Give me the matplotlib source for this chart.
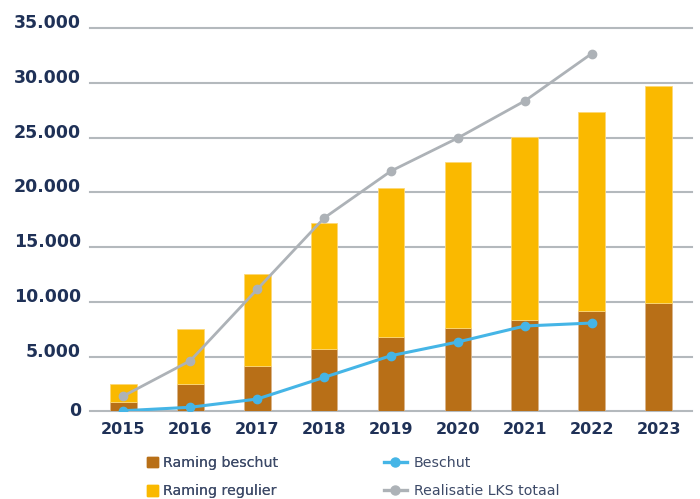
import numpy as np
import matplotlib
matplotlib.use("Agg")
import matplotlib.pyplot as plt
from matplotlib.patches import Patch
from matplotlib.lines import Line2D

# ---- data ----
years = ["2015", "2016", "2017", "2018", "2019", "2020", "2021", "2022", "2023"]
raming_beschut = [850, 2500, 4150, 5720, 6800, 7640, 8370, 9190, 9920]
raming_regulier = [1640, 4990, 8390, 11480, 13570, 15160, 16680, 18140, 19780]
beschut = [50, 370, 1120, 3100, 5080, 6330, 7790, 8060]
realisatie_lks = [1400, 4620, 11140, 17650, 21940, 24960, 28340, 32660]
y_ticks = [0, 5000, 10000, 15000, 20000, 25000, 30000, 35000]

# ---- style ----
c_brown = "#b86f17"
c_yellow = "#fab900"
c_blue = "#45b5e6"
c_grey = "#adb2b7"
c_grid = "#b4b9bd"
c_text = "#1f3157"
c_legend = "#3d4a68"

W, H = 700, 499
fig = plt.figure(figsize=(W / 100, H / 100), dpi=100)
ax = fig.add_axes([90 / W, (H - 411.3) / H, 602 / W, (411.3 - 28) / H])

x = np.arange(len(years))
ax.bar(x, raming_beschut, width=0.4, color=c_brown, edgecolor="#d9b48a",
       linewidth=0.6, zorder=2)
ax.bar(x, raming_regulier, width=0.4, bottom=raming_beschut, color=c_yellow,
       edgecolor="#fdd877", linewidth=0.6, zorder=2)

ax.plot(x[:len(realisatie_lks)], realisatie_lks, color=c_grey, lw=2.0,
        marker="o", markersize=6, zorder=3, solid_joinstyle="round")
ax.plot(x[:len(beschut)], beschut, color=c_blue, lw=2.2,
        marker="o", markersize=6, zorder=4, solid_joinstyle="round")

ax.set_xlim(-0.5, len(years) - 0.5)
ax.set_ylim(0, 35000)
ax.set_yticks(y_ticks)
ax.set_yticklabels([f"{v:,}".replace(",", ".") for v in y_ticks], va="baseline")
ax.set_xticks(x)
ax.set_xticklabels(years)
ax.yaxis.get_major_ticks()[0].label1.set_va("center")

for lbl in ax.get_yticklabels():
    lbl.set_fontsize(12.5)
    lbl.set_fontweight("bold")
    lbl.set_color(c_text)
for lbl in ax.get_xticklabels():
    lbl.set_fontsize(11.5)
    lbl.set_fontweight("bold")
    lbl.set_color(c_text)
ax.tick_params(axis="both", length=0)
ax.tick_params(axis="y", pad=6.5)
ax.tick_params(axis="x", pad=8)

ax.grid(axis="y", color=c_grid, linewidth=1.5, zorder=0)
ax.set_axisbelow(True)
for s in ax.spines.values():
    s.set_visible(False)
for gl in ax.get_ygridlines():
    gl.set_clip_on(False)

# ---- legends ----
fs = 10.2
top = (H - 456) / H
leg1 = fig.legend(handles=[Patch(color=c_brown), Patch(color=c_yellow)],
                  labels=["Raming beschut", "Raming regulier"],
                  loc="upper left", bbox_to_anchor=(147 / W, top),
                  frameon=False, fontsize=fs, labelcolor=c_legend,
                  handlelength=0.8, handleheight=0.8, handletextpad=0.35,
                  borderpad=0, borderaxespad=0, labelspacing=1.0)
fig.add_artist(leg1)
leg2 = fig.legend(handles=[Line2D([], [], color=c_blue, lw=2.4, marker="o", markersize=6.5),
                           Line2D([], [], color=c_grey, lw=2.4, marker="o", markersize=6.5)],
                  labels=["Beschut", "Realisatie LKS totaal"],
                  loc="upper left", bbox_to_anchor=(384 / W, top),
                  frameon=False, fontsize=fs, labelcolor=c_legend,
                  handlelength=1.6, handleheight=0.8, handletextpad=0.5,
                  borderpad=0, borderaxespad=0, labelspacing=1.0)

fig.savefig("out.png", dpi=100)
